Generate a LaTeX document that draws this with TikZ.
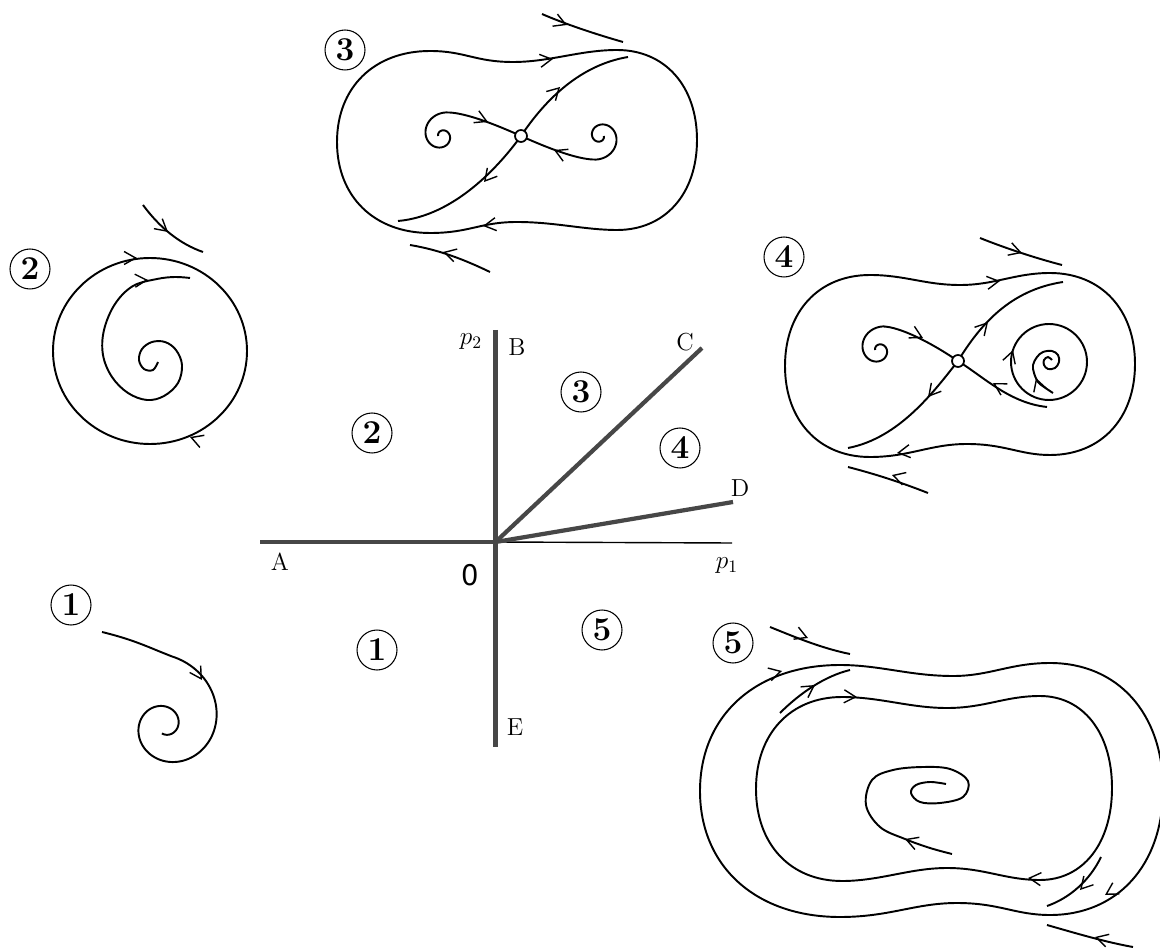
\documentclass[tikz,border=0pt]{standalone}
\usepackage{fontspec}
\newfontfamily\herosfont{TeX Gyre Heros}
\usetikzlibrary{arrows.meta,calc}
\tikzset{
  traj/.style={line width=1.1pt},
  barbtip/.style={line width=0.8pt,-{Straight Barb[length=2.3mm 0 0,width=2.6mm 0 0]}},
  thickax/.style={line width=2.4pt,black!72,line cap=butt},
  thinax/.style={line width=0.8pt},
  circnum/.style={draw,circle,line width=0.6pt,minimum size=0.8cm,inner sep=0pt,
    font=\fontsize{19}{20}\selectfont\bfseries},
  letter/.style={inner sep=0pt,font=\fontsize{14}{16}\selectfont},
  saddle/.style={draw,circle,fill=white,line width=1pt,minimum size=0.24cm,inner sep=0pt},
}
\newcommand\barb[2]{\draw[barbtip] ($(#1)+(#2+180:2)$) -- (#1);}
\begin{document}
\begin{tikzpicture}[x=0.02cm,y=-0.02cm]
\useasboundingbox (0,0) rectangle (1160,949);

% ================= central bifurcation diagram =================
\coordinate (O) at (495.5,542);
\coordinate (Aend) at (260,542);
\coordinate (Bend) at (495.5,330);
\coordinate (Eend) at (495.5,747);
\coordinate (Cend) at (702,348);
\coordinate (Dend) at (733,502);
\coordinate (P1end) at (732,543);
\draw[thinax] (O) -- (P1end);
\draw[thickax] (Aend) -- (O);
\draw[thickax] (Bend) -- (Eend);
\draw[thickax] (O) -- (Cend);
\draw[thickax] (O) -- (Dend);
\node[letter] (lp2) at (471,342) {$p_2$};
\node[letter] (lB) at (517,347) {B};
\node[letter] (lC) at (685,342) {C};
\node[letter] (lD) at (740,488) {D};
\node[letter] (lA) at (280,562) {A};
\node[inner sep=0pt,font=\herosfont\fontsize{17}{18}\selectfont] (l0) at (470,575) {0};
\node[letter] (lp1) at (727,566) {$p_1$};
\node[letter] (lE) at (515,727) {E};
\node[circnum] (r3) at (581,392) {3};
\node[circnum] (r2) at (372,433) {2};
\node[circnum] (r4) at (680,448) {4};
\node[circnum] (r1) at (377,650) {1};
\node[circnum] (r5) at (602,630) {5};

% ================= labels of phase portraits =================
\node[circnum] (n3) at (345,50) {3};
\node[circnum] (n2) at (30,269) {2};
\node[circnum] (n4) at (784,257) {4};
\node[circnum] (n1) at (71,605) {1};
\node[circnum] (n5) at (733,643) {5};

% ================= portrait 1 =================
\draw[traj] (102,632) .. controls (135,640) and (150,648) .. (171.03,656.06)
  -- plot[domain=-85:470,samples=160,variable=\t]
   ({165+53*exp(-0.00369*(\t+13))*cos(\t)},{725+53*exp(-0.00369*(\t+13))*sin(\t)});
\barb{202,680}{58}

% ================= portrait 2 =================
\draw[traj] (150,351) ellipse[x radius=97,y radius=93];
\barb{137,258}{0}
\barb{190,437}{200}
\draw[traj] plot[smooth,tension=0.6] coordinates {
  (158,362) (153,370) (144,369) (139,360) (142,349) (152,342) (165,342)
  (176,350) (182,365) (178,383) (164,396) (147,400) (128,393) (112,377)
  (103,355) (104,330) (115,304) (133,286) (157,279) (175,277) (190,278)};
\barb{148,280}{-3}
\draw[traj] (143,205) .. controls (160,228) and (180,244) .. (203,252);
\barb{168,232}{40}

% ================= portrait 3 =================
\draw[traj] (430,51) .. controls (374.2,51) and (337,87.4) .. (337,142)
  .. controls (337,196.6) and (374.2,233) .. (430,233)
  .. controls (470,233) and (480,222) .. (517,222)
  .. controls (555,222) and (585,230) .. (617,230)
  .. controls (665,230) and (697,194) .. (697,140)
  .. controls (697,86) and (665,50) .. (617,50)
  .. controls (580,50) and (550,62) .. (513,62)
  .. controls (475,62) and (465,51) .. (430,51) -- cycle;
\barb{553,59}{-8}
\barb{483,226}{172}
\draw[traj] (542,14) .. controls (565,24) and (595,34) .. (623,42);
\barb{567,25}{22}
\draw[traj] (410,245) .. controls (440,250) and (465,260) .. (490,272);
\barb{443,252}{195}
\begin{scope}
\draw[traj] (521,136) .. controls (490,122) and (462,112) .. (446.15,112.46)
  -- plot[domain=-280:180,samples=140,variable=\t]
   ({442+23*exp(0.00396*(-\t-270))*cos(-\t)},{136+23*exp(0.00396*(-\t-270))*sin(-\t)});
\barb{488,122}{24}
\end{scope}
\begin{scope}[rotate around={180:(521,136)}]
\draw[traj] (521,136) .. controls (490,122) and (462,112) .. (446.15,112.46)
  -- plot[domain=-280:180,samples=140,variable=\t]
   ({442+23*exp(0.00396*(-\t-270))*cos(-\t)},{136+23*exp(0.00396*(-\t-270))*sin(-\t)});
\barb{488,122}{24}
\end{scope}
\draw[traj] (521,136) .. controls (500,165) and (455,216) .. (398,221);
\barb{484,182}{130}
\draw[traj] (521,136) .. controls (545,100) and (580,65) .. (628,57);
\barb{560,87}{-45}
\node[saddle] (s3) at (521,136) {};

% ================= portrait 4 =================
\draw[traj] (870,275) .. controls (819,275) and (785,311.4) .. (785,366)
  .. controls (785,420.6) and (819,457) .. (870,457)
  .. controls (910,457) and (930,444) .. (967,444)
  .. controls (1005,444) and (1020,455) .. (1050,455)
  .. controls (1101,455) and (1135,418.6) .. (1135,364)
  .. controls (1135,309.4) and (1101,273) .. (1050,273)
  .. controls (1015,273) and (995,285) .. (960,285)
  .. controls (925,285) and (905,275) .. (870,275) -- cycle;
\barb{1000,281}{-8}
\barb{897,453}{172}
\draw[traj] (980,238) .. controls (1005,248) and (1035,258) .. (1062,265);
\barb{1022,253}{18}
\draw[traj] (848,467) .. controls (875,474) and (900,482) .. (928,493);
\barb{892,475}{197}
\draw[traj] (958,361) .. controls (930,342) and (900,327) .. (883.15,326.46)
  -- plot[domain=-280:180,samples=140,variable=\t]
   ({879+23*exp(0.00396*(-\t-270))*cos(-\t)},{350+23*exp(0.00396*(-\t-270))*sin(-\t)});
\barb{923,338}{27}
\draw[traj] (958,361) .. controls (935,390) and (900,438) .. (848,448);
\barb{928,397}{130}
\draw[traj] (958,361) .. controls (980,325) and (1010,290) .. (1063,282);
\barb{988,322}{-48}
\draw[traj] (958,361) .. controls (985,378) and (1010,403) .. (1047,407);
\barb{993,383}{210}
\draw[traj] (1049,362) circle[radius=0.76cm];
\barb{1013,350}{-72}
\draw[traj] plot[smooth,tension=0.6] coordinates {
  (1053,393) (1044,387) (1038,382) (1034,373) (1033,365) (1037,357) (1043,352)
  (1052,351) (1058,355) (1059,362) (1055,368) (1048,369) (1044,365) (1044,360)
  (1048,357) (1052,360)};
\barb{1036,378}{-108}
\node[saddle] (s4) at (958,361) {};

% ================= portrait 5 =================
\draw[traj] (840,665) .. controls (756,665) and (700,715.4) .. (700,791)
  .. controls (700,866.6) and (756,917) .. (840,917)
  .. controls (890,917) and (915,903) .. (957,903)
  .. controls (1000,903) and (1015,915) .. (1050,915)
  .. controls (1117.8,915) and (1163,864.6) .. (1163,789)
  .. controls (1163,713.4) and (1117.8,663) .. (1050,663)
  .. controls (1010,663) and (990,676) .. (953,676)
  .. controls (910,676) and (880,665) .. (840,665) -- cycle;
\barb{782,671}{-15}
\barb{1105,895}{149}
\draw[traj] (842,697) .. controls (790.4,697) and (756,733.8) .. (756,789)
  .. controls (756,844.2) and (790.4,881) .. (842,881)
  .. controls (880,881) and (910,868) .. (947,868)
  .. controls (985,868) and (1005,880) .. (1040,880)
  .. controls (1083.2,880) and (1112,843.2) .. (1112,788)
  .. controls (1112,732.8) and (1083.2,696) .. (1040,696)
  .. controls (1005,696) and (985,708) .. (947,708)
  .. controls (910,708) and (880,697) .. (842,697) -- cycle;
\barb{857,697}{3}
\barb{1028,878}{185}
\draw[traj] plot[smooth,tension=0.6] coordinates {
  (952,854) (930,848) (905,839) (880,827) (866,805) (872,780) (893,770)
  (923,767) (950,769) (968,781) (963,797) (940,803) (920,802) (911,793)
  (916,785) (930,782) (946,784)};
\barb{905,839}{200}
\draw[traj] (780,713) .. controls (800,693) and (825,676) .. (850,670);
\barb{815,685}{-34}
\draw[traj] (1101,857) .. controls (1090,880) and (1070,898) .. (1047,906);
\barb{1080,890}{132}
\draw[traj] (770,627) .. controls (790,635) and (820,648) .. (850,654);
\barb{808,638}{22}
\draw[traj] (1047,925) .. controls (1075,933) and (1105,942) .. (1133,947);
\barb{1095,937}{196}
\end{tikzpicture}
\end{document}
